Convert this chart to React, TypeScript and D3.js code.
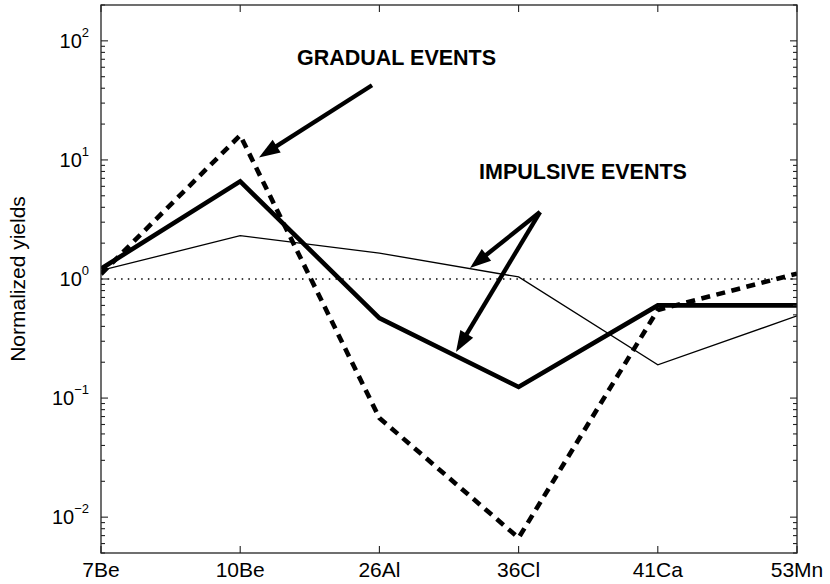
import React from "react";
import * as d3 from "d3";

// isotopes on the x axis
const isotopes = ["7Be", "10Be", "26Al", "36Cl", "41Ca", "53Mn"];

// normalized yields
const dashedSeries = [1.1, 16.1, 0.068, 0.0067, 0.55, 1.11];
const thickSeries = [1.22, 6.6, 0.47, 0.124, 0.6, 0.6];
const thinSeries = [1.18, 2.31, 1.65, 1.04, 0.19, 0.49];

const yDecades = [-2, -1, 0, 1, 2];
const yDomain = [0.005, 200];

// annotations: position as [category index, yield]
const notes = [
  { label: "GRADUAL EVENTS", at: [1.408, 71.5] },
  { label: "IMPULSIVE EVENTS", at: [2.716, 7.9] },
];
const arrows = [
  { from: [1.947, 42.4], to: [1.135, 10.5] },
  { from: [3.154, 3.65], to: [2.651, 1.24] },
  { from: [3.154, 3.65], to: [2.55, 0.244] },
];

const W = 830;
const H = 584;
const margin = { left: 101, right: 33, top: 5, bottom: 31 };
const font = "'Liberation Sans', Arial, Helvetica, sans-serif";

const App: React.FC = () => {
  const x0 = margin.left;
  const x1 = W - margin.right;
  const y0 = margin.top;
  const y1 = H - margin.bottom;

  const x = d3.scalePoint<string>().domain(isotopes).range([x0, x1]);
  const xi = d3.scaleLinear().domain([0, isotopes.length - 1]).range([x0, x1]);
  const y = d3.scaleLog().domain(yDomain).range([y1, y0]);

  const line = d3
    .line<number>()
    .x((_, i) => x(isotopes[i]) as number)
    .y((d) => y(d));

  // minor ticks 2..9 per decade inside the domain
  const minor: number[] = [];
  for (let k = -3; k <= 2; k++) {
    for (let m = 2; m <= 9; m++) {
      const v = m * Math.pow(10, k);
      if (v >= yDomain[0] && v <= yDomain[1]) minor.push(v);
    }
  }

  const head = (from: number[], to: number[]) => {
    const ax = xi(from[0]);
    const ay = y(from[1]);
    const bx = xi(to[0]);
    const by = y(to[1]);
    const len = Math.hypot(bx - ax, by - ay);
    const ux = (bx - ax) / len;
    const uy = (by - ay) / len;
    const hl = 21;
    const hw = 7.5;
    const cx = bx - ux * hl;
    const cy = by - uy * hl;
    return {
      shaft: [ax, ay, cx + ux * 2, cy + uy * 2],
      pts: `${bx},${by} ${cx - uy * hw},${cy + ux * hw} ${cx + uy * hw},${cy - ux * hw}`,
    };
  };

  return (
    <svg
      width={W}
      height={H}
      style={{ position: "absolute", left: 0, top: 0, background: "#fff" }}
      fontFamily={font}
    >
      <defs>
        <clipPath id="plot">
          <rect x={x0} y={y0} width={x1 - x0} height={y1 - y0} />
        </clipPath>
      </defs>

      {/* reference line at 1 */}
      <line
        x1={x0}
        x2={x1}
        y1={y(1)}
        y2={y(1)}
        stroke="#000"
        strokeWidth={1.3}
        strokeDasharray="1.5,5.2"
      />

      <g clipPath="url(#plot)" fill="none" stroke="#000">
        <path d={line(thinSeries) ?? ""} strokeWidth={1.3} />
        <path d={line(thickSeries) ?? ""} strokeWidth={4.6} />
        <path d={line(dashedSeries) ?? ""} strokeWidth={4.6} strokeDasharray="9,6.5" />
      </g>

      {/* annotations */}
      {arrows.map((a, i) => {
        const h = head(a.from, a.to);
        return (
          <g key={i}>
            <line
              x1={h.shaft[0]}
              y1={h.shaft[1]}
              x2={h.shaft[2]}
              y2={h.shaft[3]}
              stroke="#000"
              strokeWidth={4.3}
            />
            <polygon points={h.pts} fill="#000" />
          </g>
        );
      })}
      {notes.map((n) => (
        <text
          key={n.label}
          x={xi(n.at[0])}
          y={y(n.at[1])}
          dominantBaseline="central"
          fontSize={21.5}
          fontWeight="bold"
        >
          {n.label}
        </text>
      ))}

      {/* box */}
      <rect
        x={x0}
        y={y0}
        width={x1 - x0}
        height={y1 - y0}
        fill="none"
        stroke="#222"
        strokeWidth={1.3}
      />

      {/* y ticks */}
      <g stroke="#222" strokeWidth={1.1}>
        {yDecades.map((k) => (
          <g key={k}>
            <line x1={x0} x2={x0 + 7} y1={y(Math.pow(10, k))} y2={y(Math.pow(10, k))} />
            <line x1={x1} x2={x1 - 7} y1={y(Math.pow(10, k))} y2={y(Math.pow(10, k))} />
          </g>
        ))}
        {minor.map((v) => (
          <g key={v}>
            <line x1={x0} x2={x0 + 4} y1={y(v)} y2={y(v)} />
            <line x1={x1} x2={x1 - 4} y1={y(v)} y2={y(v)} />
          </g>
        ))}
        {isotopes.map((c) => (
          <g key={c}>
            <line x1={x(c)} x2={x(c)} y1={y1} y2={y1 - 7} />
            <line x1={x(c)} x2={x(c)} y1={y0} y2={y0 + 7} />
          </g>
        ))}
      </g>

      {/* y tick labels */}
      {yDecades.map((k) => (
        <text
          key={k}
          x={89}
          y={y(Math.pow(10, k)) + 7}
          textAnchor="end"
          fontSize={20}
          fill="#000"
        >
          10
          <tspan fontSize={13} dy={-11}>
            {k < 0 ? `\u2212${-k}` : `${k}`}
          </tspan>
        </text>
      ))}

      {/* x tick labels */}
      {isotopes.map((c) => (
        <text key={c} x={x(c)} y={577} textAnchor="middle" fontSize={21} fill="#000">
          {c}
        </text>
      ))}

      <text
        transform={`translate(17,${(y0 + y1) / 2}) rotate(-90)`}
        textAnchor="middle"
        dominantBaseline="central"
        fontSize={21}
        fill="#000"
      >
        Normalized yields
      </text>
    </svg>
  );
};

export default App;
